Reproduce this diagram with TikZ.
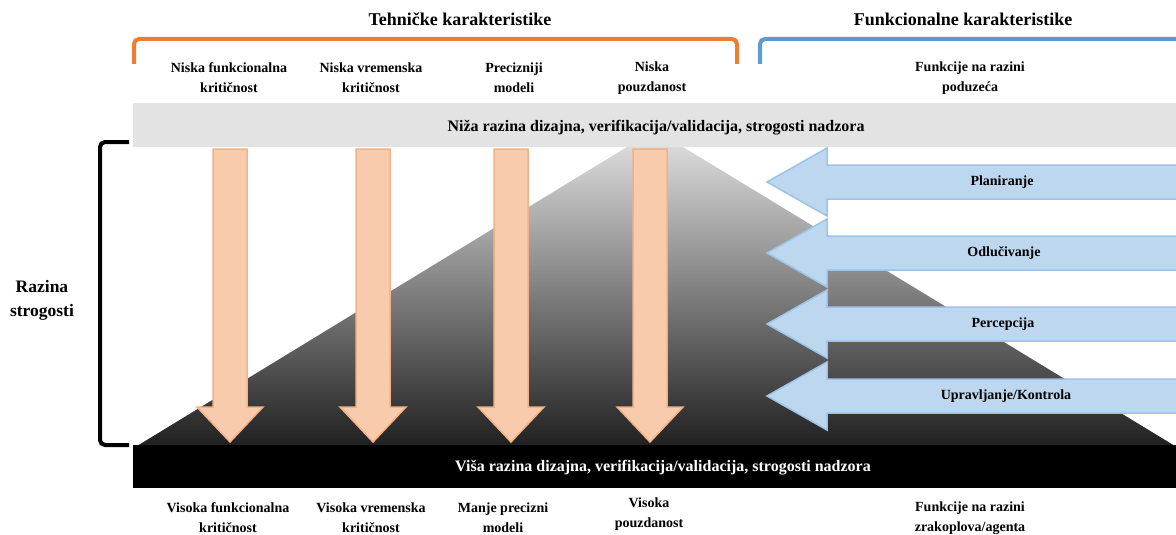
\documentclass[tikz,border=0pt]{standalone}
\usepackage{fontspec}
\setmainfont{Liberation Serif}
\definecolor{oFill}{HTML}{F8CBAD}
\definecolor{oLine}{HTML}{F4B183}
\definecolor{bFill}{HTML}{BDD7EE}
\definecolor{bLine}{HTML}{9DC3E6}
\definecolor{oBrk}{HTML}{ED7D31}
\definecolor{bBrk}{HTML}{5B9BD5}
\definecolor{bandGray}{HTML}{E3E3E3}
\definecolor{triTop}{HTML}{D9D9D9}
\definecolor{triBot}{HTML}{202020}
\begin{document}
\begin{tikzpicture}[x=1pt,y=-1pt,
  lbl/.style={font=\bfseries\fontsize{14}{20}\selectfont, align=center, inner sep=0pt},
  headtxt/.style={font=\bfseries\fontsize{18}{22}\selectfont, inner sep=0pt},
  bandtxt/.style={font=\bfseries\fontsize{16}{19}\selectfont, inner sep=0pt},
  sidetxt/.style={font=\bfseries\fontsize{17.5}{24}\selectfont, align=center, inner sep=0pt},
  oarrow/.style={fill=oFill, draw=oLine, line width=1.5pt},
  barrow/.style={fill=bFill, draw=bLine, line width=1.5pt},
  brk/.style={line width=4pt, rounded corners=5pt}]
\clip (0,0) rectangle (1176,535);
\fill[white] (0,0) rectangle (1176,535);

% gradient trapezoid
\shade[top color=triTop, bottom color=triBot]
  (137,446) -- (627,147) -- (683,147) -- (1175,446) -- cycle;

% bands
\fill[bandGray] (133,103) rectangle (1180,147);
\fill[black] (133,445) rectangle (1180,488);

% orange down arrows
\foreach \c in {230,373,511,650}
  \draw[oarrow] (\c-17,149) -- (\c+17,149) -- (\c+17,407) -- (\c+33,407)
    -- (\c,442) -- (\c-33,407) -- (\c-17,407) -- cycle;

% blue left arrows
\foreach \y in {182,253,324,396}
  \draw[barrow] (1190,\y-17) -- (827,\y-17) -- (827,\y-34) -- (767,\y)
    -- (827,\y+34) -- (827,\y+17) -- (1190,\y+17) -- cycle;

% brackets
\draw[brk, oBrk] (134,64) -- (134,39) -- (737,39) -- (737,64);
\draw[brk, bBrk] (760,64) -- (760,39) -- (1195,39);
\draw[brk, black] (129,142) -- (100,142) -- (100,445) -- (129,445);

% headings
\node[headtxt] (tech) at (460,19) {Tehničke karakteristike};
\node[headtxt] (func) at (963,19) {Funkcionalne karakteristike};

% top labels
\node[lbl] (t1) at (229,78) {Niska funkcionalna\\kritičnost};
\node[lbl] (t2) at (371,78) {Niska vremenska\\kritičnost};
\node[lbl] (t3) at (514,78) {Precizniji\\modeli};
\node[lbl] (t4) at (652,78) {Niska\\pouzdanost};
\node[lbl] (t5) at (970,78) {Funkcije na razini\\poduzeća};

% band texts
\node[bandtxt] (low) at (656,128) {Niža razina dizajna, verifikacija/validacija, strogosti nadzora};
\node[bandtxt, text=white] (high) at (663,468) {Viša razina dizajna, verifikacija/validacija, strogosti nadzora};

% blue arrow labels
\node[lbl] (f1) at (1002,182) {Planiranje};
\node[lbl] (f2) at (1004,253) {Odlučivanje};
\node[lbl] (f3) at (1003,324) {Percepcija};
\node[lbl] (f4) at (1006,396) {Upravljanje/Kontrola};

% side label
\node[sidetxt] (side) at (42,300) {Razina\\strogosti};

% bottom labels
\node[lbl] (b1) at (228,518) {Visoka funkcionalna\\kritičnost};
\node[lbl] (b2) at (371,518) {Visoka vremenska\\kritičnost};
\node[lbl] (b3) at (503,518) {Manje precizni\\modeli};
\node[lbl] (b4) at (649,514) {Visoka\\pouzdanost};
\node[lbl] (b5) at (970,518) {Funkcije na razini\\zrakoplova/agenta};
\end{tikzpicture}
\end{document}
